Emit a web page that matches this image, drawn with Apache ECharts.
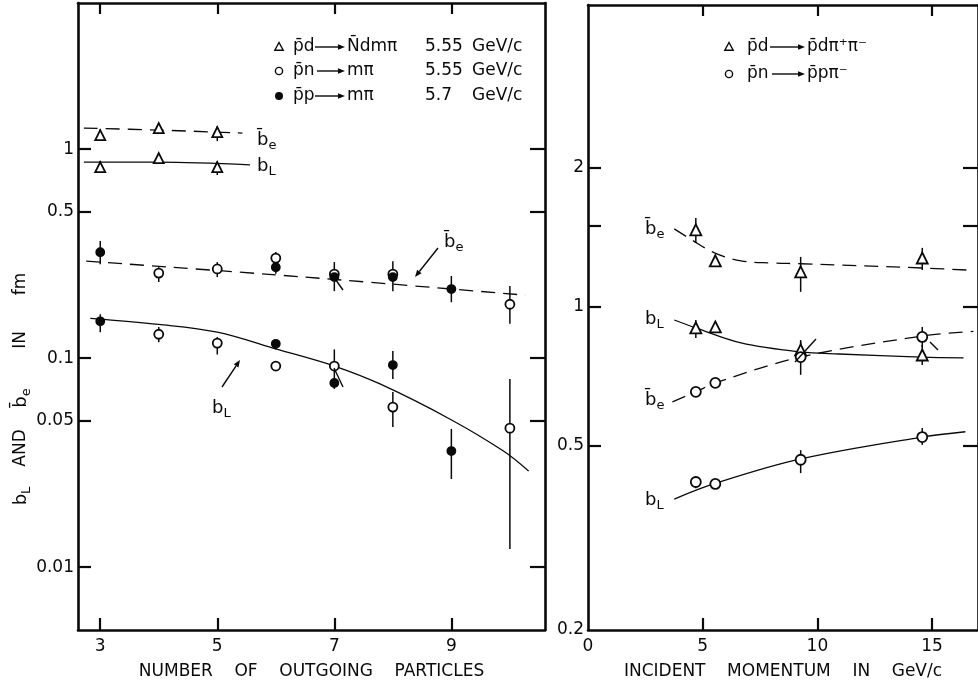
<!DOCTYPE html>
<html>
<head>
<meta charset="utf-8">
<script src="https://cdn.jsdelivr.net/npm/echarts@6/dist/echarts.min.js"></script>
<style>
  html, body { margin: 0; background: #fff; }
  #chart { width: 978px; height: 691px; }
</style>
</head>
<body>
<div id="chart"></div>
<script>
const L = Math.log10;

// ---- left panel: radius vs number of outgoing particles ----
const multTicks = [3, 5, 7, 9];
const multYLabels = [0.01, 0.05, 0.1, 0.5, 1];

// rows are [n, value, errLow, errHigh]
// p̄d → N̄dmπ 5.55 GeV/c (open triangles)
const pdBeMult = [[3, 1.166, 1.092, 1.246], [4, 1.26, 1.206, 1.317], [5, 1.206, 1.092, 1.288]];
const pdBlMult = [[3, 0.82, 0.776, 0.876], [4, 0.906, 0.866, 0.946], [5, 0.82, 0.751, 0.876]];
// p̄n → mπ 5.55 GeV/c (open circles)
const pnBeMult = [[4, 0.255, 0.231, 0.272], [5, 0.267, 0.244, 0.288], [6, 0.301, 0.282, 0.322],
                  [7, 0.252, 0.209, 0.288], [8, 0.252, 0.209, 0.291], [10, 0.181, 0.146, 0.221]];
const pnBlMult = [[4, 0.130, 0.119, 0.141], [5, 0.118, 0.104, 0.126], [6, 0.0916, null, null],
                  [7, 0.0916, 0.075, 0.110], [8, 0.0583, 0.0468, 0.0688], [10, 0.0462, 0.0122, 0.0794]];
// p̄p → mπ 5.7 GeV/c (filled circles)
const ppBeMult = [[3, 0.321, 0.281, 0.363], [6, 0.272, 0.253, 0.291], [7, 0.244, null, null],
                  [8, 0.244, null, null], [9, 0.214, 0.185, 0.247]];
const ppBlMult = [[3, 0.150, 0.133, 0.162], [6, 0.117, 0.110, 0.121], [7, 0.076, 0.0712, 0.0796],
                  [8, 0.0926, 0.0794, 0.108], [9, 0.0359, 0.0264, 0.0458]];
// hand-drawn curves
const pdBeFitMult = [[2.72, 1.26], [4, 1.233], [5.43, 1.193]];
const pdBlFitMult = [[2.72, 0.866], [4, 0.866], [5.56, 0.84]];
const beFitMult = [[2.76, 0.291], [6.5, 0.244], [10.26, 0.2]];
const blFitMult = [[2.83, 0.155], [4, 0.145], [5, 0.133], [6.03, 0.110], [7, 0.0916],
                   [7.79, 0.075], [8.98, 0.051], [9.89, 0.0359], [10.32, 0.0288]];

// ---- right panel: radius vs incident momentum ----
const momTicks = [5, 10, 15];
const momLabels = [0, 5, 10, 15];
const momYLabels = [0.2, 0.5, 1, 2];
const momYTicks = [0.5, 1, 1.5, 2];

// p̄d → p̄dπ+π− (open triangles)
const pdBeMom = [[4.7, 1.468, 1.375, 1.558], [5.55, 1.258, 1.22, 1.296], [9.27, 1.191, 1.078, 1.283], [14.57, 1.276, 1.202, 1.342]];
const pdBlMom = [[4.7, 0.901, 0.857, 0.937], [5.55, 0.905, 0.883, 0.928], [9.27, 0.807, 0.78, 0.848], [14.57, 0.787, 0.749, 0.827]];
// p̄n → p̄pπ− (open circles)
const pnBeMom = [[4.7, 0.655, null, null], [5.55, 0.685, null, null], [9.27, 0.779, 0.713, 0.84], [14.57, 0.861, 0.819, 0.905]];
const pnBlMom = [[4.7, 0.418, 0.405, 0.43], [5.55, 0.414, null, null], [9.27, 0.467, 0.437, 0.49], [14.57, 0.523, 0.503, 0.547]];
const pdBeFitMom = [[3.76, 1.475], [4.53, 1.396], [5.51, 1.309], [6.67, 1.258], [7.95, 1.245], [9.27, 1.24], [14.57, 1.214], [16.8, 1.2]];
const pdBlFitMom = [[3.76, 0.937], [4.7, 0.901], [6.67, 0.836], [9.27, 0.799], [10.94, 0.791], [14.53, 0.779], [16.37, 0.776]];
const pnBeFitMom = [[3.68, 0.623], [4.7, 0.655], [5.55, 0.685], [9.27, 0.779], [14.57, 0.865], [16.8, 0.885]];
const pnBlFitMom = [[3.76, 0.384], [5.6, 0.416], [9.27, 0.469], [14.57, 0.523], [16.45, 0.537]];

const FONT = 'DejaVu Sans';
const INK = '#0a0a0a';

const toLog = arr => arr.map(d => [d[0], L(d[1])]);
const toErr = arr => arr.filter(d => d[2] != null).map(d => [d[0], L(d[2]), L(d[3])]);
const fmtLog = v => String(Number(Math.pow(10, v).toPrecision(2)));

function points(g, data, symbol, filled, size) {
    return {
        type: 'scatter', xAxisIndex: g * 2, yAxisIndex: g * 2,
        data: toLog(data), symbol, symbolSize: size, z: 5,
        itemStyle: { color: filled ? INK : '#fff', borderColor: INK, borderWidth: 1.8, opacity: 1 }
    };
}

function errBars(g, data) {
    return {
        type: 'custom', xAxisIndex: g * 2, yAxisIndex: g * 2, data: toErr(data), z: 3,
        renderItem: (params, api) => {
            const p1 = api.coord([api.value(0), api.value(1)]);
            const p2 = api.coord([api.value(0), api.value(2)]);
            return {
                type: 'line',
                shape: { x1: p1[0], y1: p1[1], x2: p2[0], y2: p2[1] },
                style: { stroke: INK, lineWidth: 1.5 }
            };
        }
    };
}

function curve(g, data, dashed) {
    return {
        type: 'line', xAxisIndex: g * 2, yAxisIndex: g * 2, data: toLog(data),
        smooth: 0.35, showSymbol: false, z: 2,
        lineStyle: { color: INK, width: 1.3, type: dashed ? [14, 8] : 'solid' }
    };
}

const axisLine = { onZero: false, lineStyle: { color: INK, width: 2.6 } };
const tickStyle = { color: INK, width: 2.2 };
const labelStyle = { color: INK, fontSize: 17, fontFamily: FONT };

function xAxes(g, min, max, ticks, labels, name) {
    return [
        {
            gridIndex: g, type: 'value', min, max, position: 'bottom',
            axisLine, splitLine: { show: false },
            axisTick: { inside: true, length: 12, customValues: ticks, lineStyle: tickStyle },
            axisLabel: Object.assign({ customValues: labels, margin: 8 }, labelStyle),
            name, nameLocation: 'middle', nameGap: 33,
            nameTextStyle: { color: INK, fontSize: 17, fontFamily: FONT }
        },
        {
            gridIndex: g, type: 'value', min, max, position: 'top',
            axisLine, splitLine: { show: false },
            axisTick: { inside: true, length: 11, customValues: ticks, lineStyle: tickStyle },
            axisLabel: { show: false }
        }
    ];
}

function yAxes(g, min, max, ticks, labels) {
    return [
        {
            gridIndex: g, type: 'value', min: L(min), max: L(max), position: 'left',
            axisLine, splitLine: { show: false },
            axisTick: { inside: true, length: 13, customValues: ticks.map(L), lineStyle: tickStyle },
            axisLabel: Object.assign({ customValues: labels.map(L), margin: 4, formatter: fmtLog }, labelStyle)
        },
        {
            gridIndex: g, type: 'value', min: L(min), max: L(max), position: 'right',
            axisLine, splitLine: { show: false },
            axisTick: { inside: true, length: 15, customValues: ticks.map(L), lineStyle: tickStyle },
            axisLabel: { show: false }
        }
    ];
}

// rich text for b with sub/overbar
const rich = {
    t: { fontSize: 18, fontFamily: FONT, fill: INK, color: INK, lineHeight: 24, verticalAlign: 'middle' },
    s: { fontSize: 13, fontFamily: FONT, fill: INK, color: INK, lineHeight: 10, verticalAlign: 'bottom' }
};
const BL = '{t|b}{s|L}';
const BE = '{t|b\u0304}{s|e}';
const PLAIN = '17px "DejaVu Sans"';

function txt(x, y, text, extra) {
    return Object.assign({
        type: 'text', x, y, z: 20,
        style: { text, rich, fill: INK, font: PLAIN, align: 'left', verticalAlign: 'middle' }
    }, extra || {});
}
function vtxt(y, text) {
    return {
        type: 'text', x: 21, y, z: 20, rotation: Math.PI / 2,
        style: { text, rich, fill: INK, font: PLAIN, align: 'center', verticalAlign: 'middle' }
    };
}
function seg(x1, y1, x2, y2, w) {
    return { type: 'line', z: 20, shape: { x1, y1, x2, y2 }, style: { stroke: INK, lineWidth: w || 1.4 } };
}
function arrow(x1, y1, x2, y2) {
    const a = Math.atan2(y2 - y1, x2 - x1), h = 7, s = 2.8;
    const bx = x2 - h * Math.cos(a), by = y2 - h * Math.sin(a);
    return [
        seg(x1, y1, bx, by),
        { type: 'polygon', z: 20, shape: { points: [[x2, y2],
            [bx + s * Math.sin(a), by - s * Math.cos(a)], [bx - s * Math.sin(a), by + s * Math.cos(a)]] },
          style: { fill: INK } }
    ];
}
function tri(cx, cy) {
    return { type: 'polygon', z: 20, shape: { points: [[cx, cy - 4.5], [cx - 4.2, cy + 3.2], [cx + 4.2, cy + 3.2]] },
             style: { fill: '#fff', stroke: INK, lineWidth: 1.4 } };
}
function dot(cx, cy, filled) {
    return { type: 'circle', z: 20, shape: { cx, cy, r: filled ? 3.3 : 3.6 },
             style: { fill: filled ? INK : '#fff', stroke: INK, lineWidth: 1.4 } };
}

const graphic = [
    // y axis title, rotated
    vtxt(496, BL), vtxt(448, 'AND'), vtxt(398, BE), vtxt(340, 'IN'), vtxt(284, 'fm'),

    // left legend
    tri(279, 47), txt(293, 47, 'p\u0304d'), ...arrow(315, 47, 345, 47), txt(347, 47, 'N\u0304dm\u03C0'),
    txt(425, 47, '5.55'), txt(472, 47, 'GeV/c'),
    dot(279, 71, false), txt(293, 71, 'p\u0304n'), ...arrow(317, 71, 345, 71), txt(347, 71, 'm\u03C0'),
    txt(425, 71, '5.55'), txt(472, 71, 'GeV/c'),
    dot(279, 96, true), txt(293, 96, 'p\u0304p'), ...arrow(315, 96, 345, 96), txt(347, 96, 'm\u03C0'),
    txt(425, 96, '5.7'), txt(472, 96, 'GeV/c'),

    // left panel curve labels
    txt(257, 140, BE), txt(257, 166, BL),
    txt(444, 242, BE), ...arrow(438, 248, 415, 277),
    txt(212, 408, BL), ...arrow(222, 387, 240, 360),
    seg(333, 276, 343, 290), seg(334, 368, 343, 387),

    // right legend
    tri(729, 47), txt(747, 47, 'p\u0304d'), ...arrow(770, 47, 805, 47), txt(807, 47, 'p\u0304d\u03C0\u207A\u03C0\u207B'),
    dot(729, 74, false), txt(747, 74, 'p\u0304n'), ...arrow(772, 74, 805, 74), txt(807, 74, 'p\u0304p\u03C0\u207B'),

    // right panel curve labels
    txt(645, 229, BE), txt(645, 319, BL), txt(645, 400, BE), txt(645, 500, BL),
    seg(795, 362, 816, 339), seg(930, 342, 938, 350)
];

const option = {
    animation: false,
    backgroundColor: '#fff',
    textStyle: { fontFamily: FONT, color: INK },
    grid: [
        { left: 78, top: 3, width: 467, height: 627 },
        { left: 588, top: 5, width: 17 * 23.4, height: 625 }
    ],
    xAxis: [
        ...xAxes(0, 2.62, 10.6, multTicks, multTicks, 'NUMBER    OF    OUTGOING    PARTICLES'),
        ...xAxes(1, 0, 17, momTicks, momLabels, 'INCIDENT    MOMENTUM    IN    GeV/c')
    ],
    yAxis: [
        ...yAxes(0, 0.005, 5, multYLabels, multYLabels),
        ...yAxes(1, 0.2, 4.5, momYTicks, momYLabels)
    ],
    series: [
        curve(0, pdBeFitMult, true), curve(0, pdBlFitMult, false),
        curve(0, beFitMult, true), curve(0, blFitMult, false),
        errBars(0, pdBeMult), errBars(0, pdBlMult), errBars(0, pnBeMult),
        errBars(0, pnBlMult), errBars(0, ppBeMult), errBars(0, ppBlMult),
        points(0, pdBeMult, 'triangle', false, 10), points(0, pdBlMult, 'triangle', false, 10),
        points(0, pnBeMult, 'circle', false, 9), points(0, pnBlMult, 'circle', false, 9),
        points(0, ppBeMult, 'circle', true, 8), points(0, ppBlMult, 'circle', true, 8),

        curve(1, pdBeFitMom, true), curve(1, pdBlFitMom, false),
        curve(1, pnBeFitMom, true), curve(1, pnBlFitMom, false),
        errBars(1, pdBeMom), errBars(1, pdBlMom), errBars(1, pnBeMom), errBars(1, pnBlMom),
        points(1, pdBeMom, 'triangle', false, 11), points(1, pdBlMom, 'triangle', false, 11),
        points(1, pnBeMom, 'circle', false, 10), points(1, pnBlMom, 'circle', false, 10)
    ],
    graphic
};

const chart = echarts.init(document.getElementById('chart'));
chart.setOption(option);
</script>
</body>
</html>
